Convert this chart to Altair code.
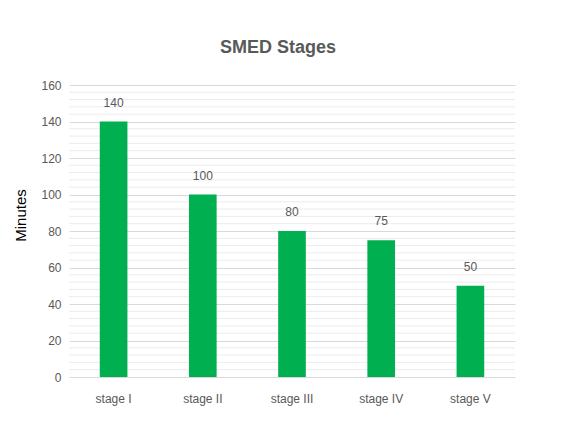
import altair as alt
import pandas as pd

stages = ["stage I", "stage II", "stage III", "stage IV", "stage V"]
minutes = [140, 100, 80, 75, 50]
major_ticks = [0, 20, 40, 60, 80, 100, 120, 140, 160]
minor_ticks = [v for v in range(0, 161, 4) if v % 20 != 0]

df = pd.DataFrame({"stage": stages, "minutes": minutes})
minor_df = pd.DataFrame({"v": minor_ticks})

FONT = "Liberation Sans"
GRAY = "#595959"

yscale = alt.Scale(domain=[0, 160], nice=False)
yaxis = alt.Axis(title="Minutes", titleFont=FONT, titleFontSize=15,
                 titleFontWeight="normal", titleColor="#000000", titlePadding=12,
                 titleY=130,
                 values=major_ticks, labelOverlap=False,
                 labelFont=FONT, labelFontSize=12, labelColor=GRAY, labelPadding=8,
                 ticks=False, domain=False, gridColor="#d9d9d9")

minor = alt.Chart(minor_df).mark_rule(color="#ececec", strokeWidth=1).encode(
    y=alt.Y("v:Q", scale=yscale, axis=yaxis)
)

x = alt.X("stage:N", sort=stages,
          scale=alt.Scale(paddingInner=0.69, paddingOuter=0.345),
          axis=alt.Axis(title=None, labelAngle=0, labelFont=FONT, labelFontSize=12,
                        labelColor=GRAY, ticks=False, domain=False, labelPadding=16))

bars = alt.Chart(df).mark_bar(color="#00B050").encode(
    x=x, y=alt.Y("minutes:Q", scale=yscale, axis=yaxis))
labels = alt.Chart(df).mark_text(baseline="bottom", dy=-12, font=FONT, fontSize=12,
                                 color=GRAY).encode(
    x=alt.X("stage:N", sort=stages),
    y=alt.Y("minutes:Q", scale=yscale, axis=yaxis),
    text="minutes:Q")

chart = (minor + bars + labels).properties(
    width=446, height=292, background="white",
    padding={"top": 31, "left": 5, "right": 5, "bottom": 5},
    title=alt.TitleParams("SMED Stages", font=FONT, fontSize=18, fontWeight="bold",
                          color=GRAY, anchor="middle", offset=22, dx=-14),
).configure_view(strokeWidth=0)

chart.save("out.html", embed_options={"renderer": "svg", "actions": False})
